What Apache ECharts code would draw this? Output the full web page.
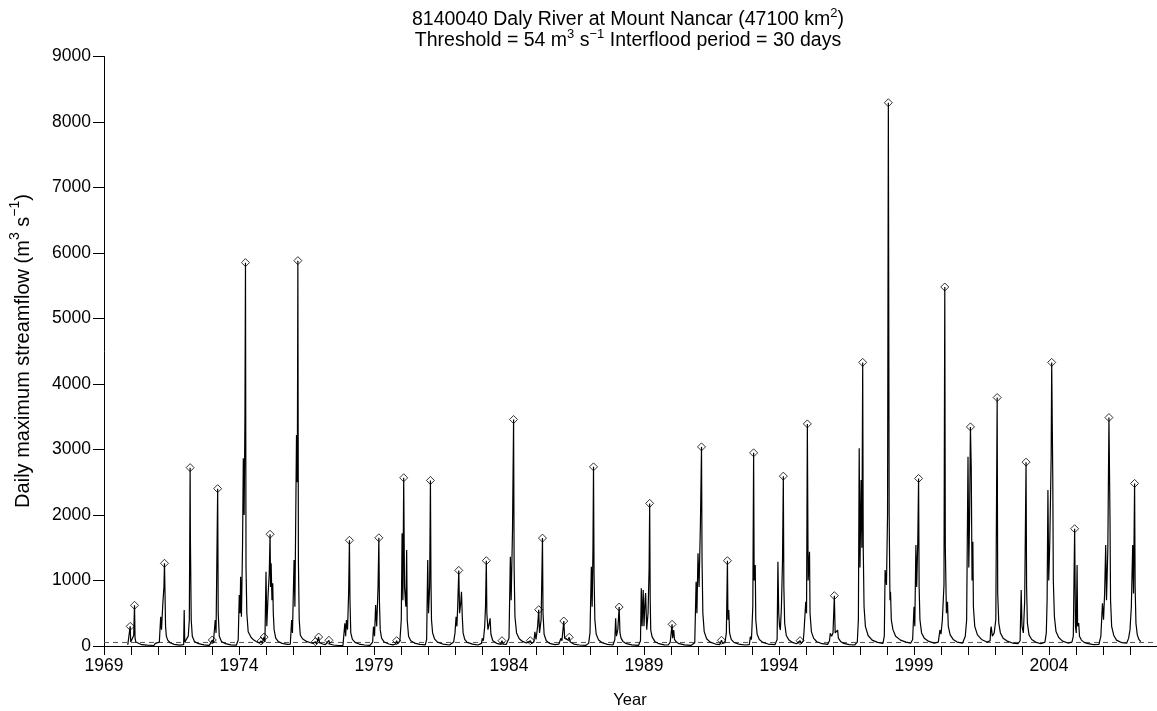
<!DOCTYPE html>
<html>
<head>
<meta charset="utf-8">
<title>8140040 Daly River at Mount Nancar</title>
<script src="https://cdn.jsdelivr.net/npm/echarts@6/dist/echarts.min.js"></script>
<style>
  html, body { margin: 0; padding: 0; background: #fff; }
  #chart { width: 1157px; height: 711px; }
</style>
</head>
<body>
<div id="chart"></div>
<script>
// Daily maximum streamflow (m3/s) as [decimal year, flow] pairs, one block per decade.
const flow1969_1978 = [
  [1969.88,18],[1969.93,40],[1969.97,300],[1969.99,60],[1970.05,45],[1970.10,160],[1970.13,621],[1970.15,120],[1970.18,60],[1970.25,35],[1970.40,20],[1970.60,12],[1970.85,8],
  [1970.90,40],[1970.93,15],[1971.05,60],[1971.10,447],[1971.13,250],[1971.18,656],[1971.22,900],[1971.24,1263],[1971.26,805],[1971.28,300],[1971.31,150],[1971.36,90],[1971.45,50],[1971.60,25],[1971.80,12],
  [1971.95,20],[1971.97,550],[1971.99,60],[1972.05,40],[1972.12,150],[1972.16,400],[1972.19,2723],[1972.20,1650],[1972.23,400],[1972.27,150],[1972.35,70],[1972.50,35],[1972.70,18],[1972.90,10],
  [1972.97,40],[1973.01,92],[1973.05,45],[1973.12,397],[1973.15,200],[1973.21,2402],[1973.23,500],[1973.27,150],[1973.35,70],[1973.50,35],[1973.70,18],[1973.90,12],
  [1973.95,40],[1973.97,92],[1974.01,778],[1974.04,500],[1974.06,1058],[1974.09,447],[1974.13,1500],[1974.16,2866],[1974.19,2000],[1974.22,3500],[1974.24,5853],[1974.26,1200],[1974.29,500],[1974.34,218],[1974.45,130],[1974.55,90],[1974.65,66],[1974.75,45],
  [1974.82,76],[1974.86,40],[1974.93,137],[1974.96,60],[1975.00,1134],[1975.03,300],[1975.08,800],[1975.12,1100],[1975.15,1706],[1975.17,900],[1975.19,1263],[1975.22,700],[1975.25,957],[1975.27,499],[1975.30,250],[1975.36,120],[1975.45,70],[1975.60,40],[1975.80,25],[1975.90,30],
  [1975.95,397],[1975.98,200],[1976.04,1313],[1976.07,600],[1976.13,3221],[1976.16,2500],[1976.18,5883],[1976.20,1300],[1976.23,400],[1976.27,168],[1976.35,110],[1976.50,70],[1976.65,50],[1976.75,40],
  [1976.83,66],[1976.87,30],[1976.95,137],[1976.98,50],[1977.10,30],[1977.20,20],[1977.33,87],[1977.36,30],[1977.50,15],[1977.70,8],[1977.85,10],
  [1977.92,346],[1977.95,150],[1977.98,397],[1978.02,250],[1978.06,800],[1978.09,1614],[1978.11,700],[1978.14,200],[1978.20,100],[1978.30,55],[1978.45,30],[1978.65,15],[1978.85,10]
];
const flow1979_1988 = [
  [1978.95,60],[1978.98,295],[1979.02,150],[1979.06,626],[1979.10,300],[1979.15,900],[1979.18,1652],[1979.20,700],[1979.23,250],[1979.28,120],[1979.38,60],[1979.55,30],[1979.70,18],
  [1979.80,30],[1979.84,81],[1979.88,35],[1979.96,80],[1980.01,400],[1980.04,1720],[1980.07,700],[1980.10,2568],[1980.13,900],[1980.18,600],[1980.21,1466],[1980.23,400],[1980.28,150],[1980.36,80],[1980.50,45],[1980.70,25],[1980.90,18],
  [1980.95,100],[1980.99,1313],[1981.02,500],[1981.06,900],[1981.09,2527],[1981.11,1000],[1981.13,397],[1981.17,200],[1981.24,110],[1981.35,60],[1981.55,30],[1981.80,15],
  [1981.95,60],[1982.00,200],[1982.04,447],[1982.07,300],[1982.10,600],[1982.14,1154],[1982.17,500],[1982.21,650],[1982.24,829],[1982.27,447],[1982.30,200],[1982.36,100],[1982.45,55],[1982.65,28],[1982.85,15],
  [1982.98,40],[1983.01,117],[1983.05,80],[1983.10,300],[1983.13,600],[1983.16,1302],[1983.18,500],[1983.22,250],[1983.27,350],[1983.30,423],[1983.33,180],[1983.40,80],[1983.55,40],[1983.70,25],
  [1983.74,81],[1983.78,30],[1983.90,25],[1984.00,120],[1984.05,1364],[1984.08,700],[1984.13,1771],[1984.17,3458],[1984.19,1200],[1984.22,450],[1984.28,200],[1984.38,110],[1984.50,70],[1984.65,45],
  [1984.79,81],[1984.84,40],[1984.92,60],[1984.96,218],[1985.00,100],[1985.06,300],[1985.10,554],[1985.13,200],[1985.19,400],[1985.24,1647],[1985.26,500],[1985.30,180],[1985.38,80],[1985.50,40],[1985.70,20],[1985.85,30],
  [1985.92,117],[1985.96,80],[1986.03,381],[1986.06,120],[1986.12,100],[1986.18,90],[1986.23,133],[1986.27,60],[1986.40,30],[1986.60,15],[1986.85,10],
  [1986.95,40],[1987.00,200],[1987.05,1211],[1987.08,600],[1987.11,1500],[1987.13,2735],[1987.15,1100],[1987.18,400],[1987.23,180],[1987.32,90],[1987.45,50],[1987.65,25],[1987.85,15],
  [1987.92,100],[1987.95,423],[1987.98,150],[1988.03,250],[1988.08,595],[1988.11,200],[1988.15,120],[1988.22,70],[1988.35,35],[1988.55,18],[1988.80,10]
];
const flow1989_1998 = [
  [1988.87,80],[1988.90,880],[1988.93,300],[1988.97,855],[1989.00,300],[1989.04,700],[1989.06,808],[1989.10,250],[1989.15,500],[1989.19,1200],[1989.21,2177],[1989.23,700],[1989.25,244],[1989.30,140],[1989.40,70],[1989.55,35],[1989.75,18],[1989.90,15],
  [1989.97,60],[1990.04,331],[1990.06,120],[1990.10,244],[1990.13,100],[1990.20,60],[1990.30,35],[1990.50,18],[1990.75,10],
  [1990.88,50],[1990.93,981],[1990.96,500],[1991.00,1415],[1991.04,900],[1991.09,1874],[1991.13,3040],[1991.15,1300],[1991.18,500],[1991.23,220],[1991.32,110],[1991.45,60],[1991.65,30],[1991.80,20],
  [1991.87,87],[1991.91,40],[1992.00,50],[1992.05,200],[1992.09,1302],[1992.11,400],[1992.14,550],[1992.17,200],[1992.23,100],[1992.33,55],[1992.50,30],[1992.75,15],[1992.90,20],
  [1992.94,142],[1992.98,100],[1993.03,600],[1993.06,2949],[1993.08,1000],[1993.12,1236],[1993.14,400],[1993.19,180],[1993.27,100],[1993.40,55],[1993.60,30],[1993.85,20],
  [1993.93,100],[1993.96,1287],[1993.99,500],[1994.02,300],[1994.05,244],[1994.09,600],[1994.13,1300],[1994.16,2593],[1994.18,900],[1994.21,350],[1994.27,160],[1994.37,90],[1994.50,55],[1994.65,35],
  [1994.78,81],[1994.83,40],[1994.90,80],[1994.93,244],[1994.99,676],[1995.02,500],[1995.05,3391],[1995.08,1000],[1995.13,1438],[1995.15,500],[1995.20,220],[1995.28,120],[1995.40,65],[1995.60,35],[1995.80,25],
  [1995.87,80],[1995.90,194],[1995.95,150],[1996.00,200],[1996.05,768],[1996.08,200],[1996.12,230],[1996.17,244],[1996.20,120],[1996.28,70],[1996.40,40],[1996.60,22],[1996.80,15],
  [1996.90,60],[1996.94,400],[1996.97,3019],[1997.00,1200],[1997.04,2535],[1997.07,1500],[1997.10,4330],[1997.12,1500],[1997.15,600],[1997.20,300],[1997.30,160],[1997.45,90],[1997.65,55],[1997.85,40],
  [1997.90,150],[1997.93,1161],[1997.95,1186],[1997.98,931],[1998.02,2000],[1998.05,8294],[1998.08,2000],[1998.11,700],[1998.13,829],[1998.16,400],[1998.22,250],[1998.32,150],[1998.50,90],[1998.70,60],[1998.88,45]
];
const flow1999_2007 = [
  [1998.95,100],[1999.00,600],[1999.03,300],[1999.07,1542],[1999.10,900],[1999.14,1600],[1999.17,2558],[1999.19,900],[1999.22,400],[1999.28,200],[1999.38,120],[1999.55,70],[1999.75,45],[1999.90,60],
  [1999.93,150],[1999.96,244],[2000.00,180],[2000.05,400],[2000.11,931],[2000.14,5481],[2000.16,1500],[2000.20,500],[2000.24,676],[2000.27,300],[2000.34,170],[2000.45,100],[2000.60,60],[2000.80,45],
  [2000.90,150],[2000.95,400],[2001.00,2891],[2001.03,1200],[2001.06,2000],[2001.09,3345],[2001.12,2713],[2001.15,1000],[2001.18,1593],[2001.20,600],[2001.25,300],[2001.35,170],[2001.50,100],[2001.70,60],[2001.82,80],
  [2001.84,250],[2001.86,295],[2001.90,150],[2001.97,200],[2002.03,400],[2002.08,3793],[2002.10,800],[2002.14,350],[2002.20,200],[2002.30,120],[2002.45,75],[2002.65,45],[2002.85,35],
  [2002.93,80],[2002.97,855],[2003.00,300],[2003.05,200],[2003.10,700],[2003.15,2807],[2003.17,900],[2003.20,350],[2003.26,170],[2003.36,100],[2003.50,60],[2003.70,35],[2003.85,60],
  [2003.90,200],[2003.93,700],[2003.96,2380],[2003.99,1000],[2004.03,1600],[2004.08,2891],[2004.10,4330],[2004.14,2558],[2004.16,1000],[2004.20,450],[2004.26,220],[2004.36,130],[2004.50,75],[2004.70,45],[2004.85,60],
  [2004.90,150],[2004.95,1790],[2004.98,300],[2005.01,200],[2005.04,1236],[2005.06,300],[2005.10,350],[2005.13,150],[2005.20,90],[2005.30,55],[2005.45,35],[2005.65,22],[2005.85,25],
  [2005.92,150],[2005.95,400],[2005.98,651],[2006.02,400],[2006.06,800],[2006.10,1542],[2006.13,700],[2006.18,1500],[2006.22,3488],[2006.26,1897],[2006.28,700],[2006.32,300],[2006.40,160],[2006.50,90],[2006.70,50],[2006.88,45],
  [2006.95,120],[2007.00,250],[2007.05,600],[2007.10,1542],[2007.13,800],[2007.17,2482],[2007.19,900],[2007.22,350],[2007.27,170],[2007.33,100],[2007.40,65]
];

// Independent flood peaks above the threshold (peaks-over-threshold series).
const peakYears = [
  1969.97, 1970.13, 1971.24, 1972.19, 1973.01, 1973.21, 1974.24, 1974.82, 1974.93, 1975.15,
  1976.18, 1976.83, 1976.95, 1977.33, 1978.09, 1979.18, 1979.84, 1980.10, 1981.09, 1982.14,
  1983.16, 1983.74, 1984.17, 1984.79, 1985.10, 1985.24, 1986.03, 1986.23, 1987.13, 1988.08,
  1989.21, 1990.04, 1991.13, 1991.87, 1992.09, 1993.06, 1994.16, 1994.78, 1995.05, 1996.05,
  1997.10, 1998.05, 1999.17, 2000.14, 2001.09, 2002.08, 2003.15, 2004.10, 2004.95, 2006.22,
  2007.17
];
const peakFlows = [
  300, 621, 1263, 2723, 92, 2402, 5853, 76, 137, 1706,
  5883, 66, 137, 87, 1614, 1652, 81, 2568, 2527, 1154,
  1302, 81, 3458, 81, 554, 1647, 381, 133, 2735, 595,
  2177, 331, 3040, 87, 1302, 2949, 2593, 81, 3391, 768,
  4330, 8294, 2558, 5481, 3345, 3793, 2807, 4330, 1790, 3488,
  2482
];

const THRESHOLD = 54;
const YEAR_MIN = 1969;
const YEAR_MAX = 2008;
const FLOW_MAX = 9000;
const yearLabelStep = 5;

const FONT = '"Liberation Sans", Arial, Helvetica, sans-serif';

const flowSeries = flow1969_1978.concat(flow1979_1988, flow1989_1998, flow1999_2007);
const peakPoints = peakYears.map((y, i) => [y, peakFlows[i]]);

const chart = echarts.init(document.getElementById('chart'), null, { renderer: 'canvas' });

// Superscript styles: small glyphs pinned to the top of a taller line box.
const supTitle = { fontSize: 13, fontFamily: FONT, verticalAlign: 'top', lineHeight: 13, fill: '#000' };
const supAxis = { fontSize: 14, fontFamily: FONT, verticalAlign: 'top', lineHeight: 14, fill: '#000' };

chart.setOption({
  animation: false,
  backgroundColor: '#fff',
  grid: { left: 104, right: -3, top: 56.5, bottom: 65, containLabel: false },
  xAxis: {
    type: 'value',
    min: YEAR_MIN,
    max: YEAR_MAX,
    interval: 1,
    axisLine: { show: true, onZero: false, lineStyle: { color: '#000', width: 1 } },
    axisTick: { show: true, length: 9, lineStyle: { color: '#000', width: 1 } },
    axisLabel: {
      margin: 11,
      color: '#000',
      fontSize: 17.5,
      fontFamily: FONT,
      showMaxLabel: false,
      formatter: v => ((v - YEAR_MIN) % yearLabelStep === 0 ? String(v) : '')
    },
    splitLine: { show: false }
  },
  yAxis: {
    type: 'value',
    min: 0,
    max: FLOW_MAX,
    interval: 1000,
    axisLine: { show: true, lineStyle: { color: '#000', width: 1 } },
    axisTick: { show: true, length: 11, lineStyle: { color: '#000', width: 1 } },
    axisLabel: {
      margin: 13, color: '#000', fontSize: 17.5, fontFamily: FONT,
      formatter: v => String(v)
    },
    splitLine: { show: false }
  },
  graphic: [
    {
      type: 'text', x: 628, y: 20, silent: true,
      style: {
        text: '8140040 Daly River at Mount Nancar (47100 km{s|2})',
        rich: { s: supTitle },
        fontSize: 19.5, fontFamily: FONT, fill: '#000', lineHeight: 27,
        align: 'center', verticalAlign: 'middle'
      }
    },
    {
      type: 'text', x: 628, y: 41, silent: true,
      style: {
        text: 'Threshold = 54 m{s|3} s{s|\u22121} Interflood period = 30 days',
        rich: { s: supTitle },
        fontSize: 19.5, fontFamily: FONT, fill: '#000', lineHeight: 27,
        align: 'center', verticalAlign: 'middle'
      }
    },
    {
      type: 'text', x: 630, y: 700, silent: true,
      style: {
        text: 'Year', fontSize: 16.5, fontFamily: FONT, fill: '#000',
        align: 'center', verticalAlign: 'middle'
      }
    },
    {
      type: 'text', x: 23, y: 351, rotation: Math.PI / 2, silent: true,
      style: {
        text: 'Daily maximum streamflow (m{s|3} s{s|\u22121})',
        rich: { s: supAxis },
        fontSize: 20, fontFamily: FONT, fill: '#000', lineHeight: 29,
        align: 'center', verticalAlign: 'middle'
      }
    }
  ],
  series: [
    {
      name: 'Threshold',
      type: 'line',
      data: [[YEAR_MIN, THRESHOLD], [YEAR_MAX, THRESHOLD]],
      showSymbol: false,
      silent: true,
      lineStyle: { color: '#555', width: 1, type: [5, 4] },
      z: 1
    },
    {
      name: 'Daily flow',
      type: 'line',
      data: flowSeries,
      showSymbol: false,
      silent: true,
      clip: true,
      lineStyle: { color: '#000', width: 1.2 },
      z: 2
    },
    {
      name: 'Flood peaks',
      type: 'scatter',
      data: peakPoints,
      symbol: 'diamond',
      symbolSize: 8,
      silent: true,
      itemStyle: { color: 'rgba(0,0,0,0)', borderColor: '#000', borderWidth: 1 },
      z: 3
    }
  ]
});
</script>
</body>
</html>
